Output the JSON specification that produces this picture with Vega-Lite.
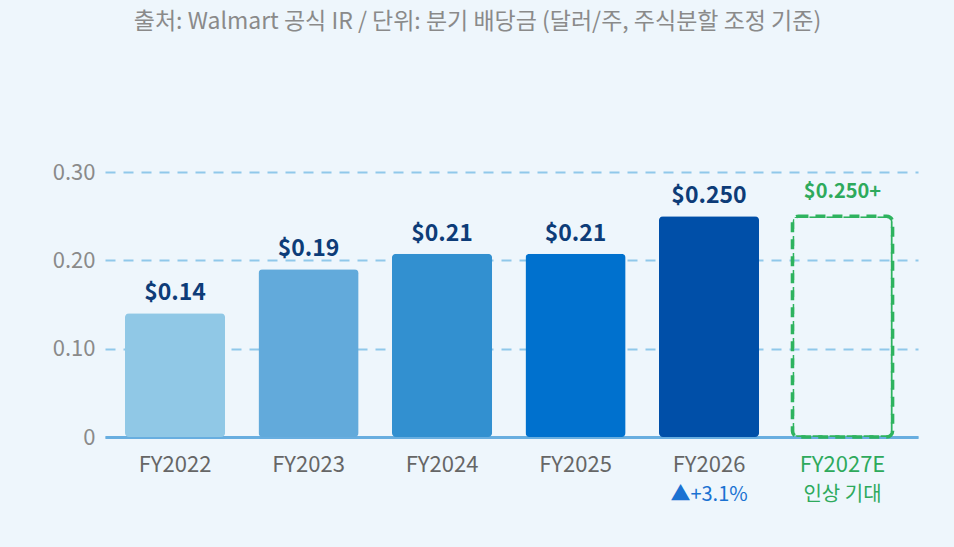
{
  "$schema": "https://vega.github.io/schema/vega-lite/v6.json",
  "autosize": "none",
  "width": 813,
  "height": 265,
  "padding": {"left": 105, "top": 172, "right": 36, "bottom": 110},
  "background": "#EEF6FC",
  "config": {
    "font": "Noto Sans CJK KR",
    "view": {"stroke": null}
  },
  "title": {
    "text": "출처: Walmart 공식 IR / 단위: 분기 배당금 (달러/주, 주식분할 조정 기준)",
    "fontSize": 23,
    "fontWeight": "normal",
    "color": "#8a8a8a",
    "anchor": "middle",
    "dx": -34,
    "offset": 127
  },
  "data": {
    "values": [
      {"year": "FY2022", "dividend": 0.14, "label": "$0.14", "note": ""},
      {"year": "FY2023", "dividend": 0.19, "label": "$0.19", "note": ""},
      {"year": "FY2024", "dividend": 0.2075, "label": "$0.21", "note": ""},
      {"year": "FY2025", "dividend": 0.2075, "label": "$0.21", "note": ""},
      {"year": "FY2026", "dividend": 0.25, "label": "$0.250", "note": "▲+3.1%"},
      {"year": "FY2027E", "dividend": 0.25, "label": "$0.250+", "note": "인상 기대"}
    ]
  },
  "encoding": {
    "x": {
      "field": "year",
      "type": "nominal",
      "sort": null,
      "scale": {"paddingInner": 0.25, "paddingOuter": 0.17, "align": 0.44},
      "axis": {
        "title": null,
        "labelAngle": 0,
        "labelFontSize": 22,
        "labelColor": {"condition": {"test": "datum.value == 'FY2027E'", "value": "#2EAA5C"}, "value": "#666666"},
        "labelPadding": 17,
        "ticks": false,
        "domainColor": "#68AEE0",
        "domainWidth": 3,
        "grid": false
      }
    },
    "y": {
      "field": "dividend",
      "type": "quantitative",
      "scale": {"domain": [0, 0.3], "nice": false},
      "axis": {
        "title": null,
        "values": [0, 0.1, 0.2, 0.3],
        "labelExpr": "datum.value == 0 ? '0' : format(datum.value, '.2f')",
        "labelFontSize": 22,
        "labelColor": "#8a8a8a",
        "labelPadding": 10,
        "ticks": false,
        "domain": false,
        "gridColor": "#90C8EA",
        "gridWidth": 2,
        "gridDash": [10, 8]
      }
    }
  },
  "layer": [
    {
      "transform": [{"filter": "datum.year != 'FY2027E'"}],
      "mark": {"type": "bar", "cornerRadius": 4},
      "encoding": {
        "color": {
          "field": "year",
          "type": "nominal",
          "scale": {
            "domain": ["FY2022", "FY2023", "FY2024", "FY2025", "FY2026"],
            "range": ["#90C8E6", "#62AADB", "#3290D0", "#0071CE", "#004FA8"]
          },
          "legend": null
        }
      }
    },
    {
      "transform": [{"filter": "datum.year == 'FY2027E'"}],
      "mark": {
        "type": "bar",
        "fill": "transparent",
        "stroke": "#2EB35F",
        "strokeWidth": 3.5,
        "strokeDash": [10, 7],
        "cornerRadius": 6
      }
    },
    {
      "transform": [{"filter": "datum.year != 'FY2027E'"}],
      "mark": {"type": "text", "baseline": "bottom", "dy": -8, "fontSize": 23, "fontWeight": "bold", "color": "#0D3C78"},
      "encoding": {"text": {"field": "label"}}
    },
    {
      "transform": [{"filter": "datum.year == 'FY2027E'"}],
      "mark": {"type": "text", "baseline": "bottom", "dy": -14, "fontSize": 20, "fontWeight": "bold", "color": "#2EAA5C"},
      "encoding": {"text": {"field": "label"}}
    },
    {
      "transform": [{"filter": "datum.note != ''"}],
      "mark": {"type": "text", "baseline": "middle", "dy": 58, "fontSize": 20},
      "encoding": {
        "y": {"datum": 0},
        "text": {"field": "note"},
        "color": {
          "condition": {"test": "datum.year == 'FY2027E'", "value": "#2EAA5C"},
          "value": "#1A72D2"
        }
      }
    }
  ]
}
